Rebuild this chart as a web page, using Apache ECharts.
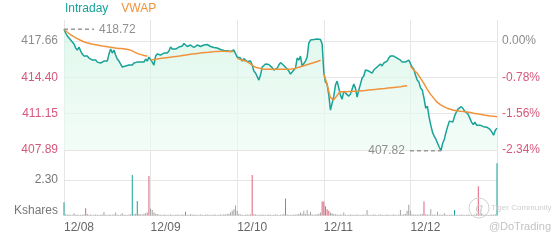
<!DOCTYPE html>
<html><head><meta charset="utf-8">
<script src="https://cdn.jsdelivr.net/npm/echarts@6/dist/echarts.min.js"></script>
<style>html,body{margin:0;padding:0;background:#fff}#c{width:560px;height:240px}</style>
</head><body><div id="c"></div>
<script>
// ---- data ----
const dayLabels = ['12/08','12/09','12/10','12/11','12/12'];
const prevClose = 417.66;
const priceAxisMin = 407.89, priceAxisMax = 419.545, priceStep = 3.2567;
const volAxisMax = 4.245, volStep = 2.30;

const price1 = [418.72,418.38,418.11,417.93,417.75,417.57,417.39,417.03,416.85,417.12,416.76,416.49,416.31,416.40,416.31,416.13,416.22,415.95,415.86,415.95,415.77,415.69,415.69,415.77,415.86,415.69,415.86,416.49,416.94,416.58,416.85,416.40,416.04,415.86,415.77,415.33,415.24,415.42,415.42,415.51,415.60,415.51,415.69,415.60,415.77,415.69,415.77,415.86,415.77,416.04,415.86,416.22];
const price2 = [416.13,415.77,415.51,416.31,416.49,416.58,416.40,416.49,416.58,416.67,416.58,416.76,417.12,416.94,416.85,416.94,417.03,417.12,417.03,417.21,417.44,417.30,417.17,417.26,417.30,417.21,417.08,417.21,417.30,417.26,417.17,417.26,417.30,417.26,417.35,417.30,417.17,417.21,417.08,416.99,417.03,416.99,416.90,416.85,416.81,416.81,416.78,416.83,416.72,416.76,416.85,416.72];
const price3 = [416.22,416.31,416.13,415.86,416.09,415.95,415.82,415.91,415.86,415.51,414.97,414.79,414.70,414.16,414.61,415.33,415.42,415.60,415.64,415.55,415.51,415.28,415.06,415.19,415.24,415.51,415.73,415.77,415.46,415.33,415.15,414.97,414.70,414.70,415.06,415.24,416.13,415.95,416.31,415.42,415.51,415.86,416.22,417.48,417.75,417.79,417.79,417.75,417.84,417.88,417.79,417.39];
const price4 = [414.88,413.98,413.80,412.81,411.46,411.46,412.72,413.71,414.07,413.44,412.81,412.45,413.17,412.99,412.99,412.72,412.90,412.99,413.80,413.44,412.63,413.26,413.80,414.34,414.52,415.06,415.15,414.97,415.06,414.79,415.06,414.97,415.33,415.24,415.60,415.42,415.69,415.82,415.86,416.13,416.31,416.40,416.31,416.27,416.13,416.00,415.95,415.77,415.69,415.77,415.69,415.95];
const price5 = [415.95,415.33,415.15,414.61,414.16,413.98,413.44,413.26,412.54,411.64,411.82,410.84,410.12,409.49,409.13,408.86,408.50,408.14,407.82,408.50,408.86,409.49,410.03,410.48,410.48,410.39,410.93,411.28,411.55,411.46,411.78,411.60,411.37,411.42,411.10,410.75,410.39,410.16,410.39,410.12,410.25,410.12,410.25,409.98,410.12,409.94,409.85,409.71,409.49,409.22,409.67,409.85];

const vwap1 = [418.72,418.47,418.24,418.06,417.90,417.75,417.62,417.51,417.44,417.37,417.32,417.26,417.21,417.17,417.12,417.08,417.03,417.00,416.98,416.94,416.90,416.82,416.67,416.53,416.44,416.36,416.29];
const vwap2 = [415.95,416.00,416.04,416.09,416.13,416.17,416.21,416.24,416.28,416.31,416.36,416.40,416.45,416.49,416.53,416.56,416.60,416.63,416.65,416.68,416.71,416.73,416.74,416.74,416.73,416.72,416.71];
const vwap3 = [416.13,416.00,415.91,415.82,415.64,415.42,415.28,415.21,415.16,415.13,415.12,415.12,415.12,415.12,415.13,415.13,415.14,415.15,415.19,415.28,415.37,415.46,415.55,415.64,415.73,415.82,415.93];
const vwap4 = [414.70,413.80,412.63,412.36,412.72,413.11,413.11,413.12,413.13,413.14,413.16,413.18,413.21,413.23,413.26,413.29,413.32,413.35,413.39,413.41,413.44,413.47,413.50,413.53,413.57,413.62,413.66];
const vwap5 = [415.42,415.06,414.79,414.34,413.89,413.35,412.90,412.54,412.18,411.96,411.78,411.64,411.55,411.46,411.41,411.37,411.34,411.30,411.25,411.19,411.14,411.09,411.03,410.99,410.94,410.91,410.87];

const vol1 = [0.86,0.08,0.05,0.06,0.05,0.04,0.14,0.05,0.06,0.04,0.05,0.05,0.06,0.47,0.10,0.05,0.06,0.04,0.05,0.06,0.05,0.04,0.05,0.06,0.23,0.05,0.04,0.06,0.05,0.05,0.06,0.20,0.05,0.04,0.06,0.15,0.05,0.05,0.04,0.06,0.08,2.62,0.10,0.12,0.94,0.10,0.08,0.06,0.12,0.15,0.20,2.56];
const vol2 = [0.45,0.35,0.20,0.12,0.10,0.06,0.05,0.04,0.06,0.05,0.04,0.05,0.06,0.05,0.04,0.05,0.06,0.05,0.04,0.06,0.05,0.25,0.05,0.04,0.10,0.05,0.06,0.05,0.04,0.05,0.06,0.05,0.04,0.05,0.06,0.05,0.04,0.05,0.06,0.05,0.04,0.05,0.06,0.05,0.08,0.06,0.10,0.12,0.20,0.30,0.40,0.64];
const vol3 = [0.30,0.10,0.06,0.05,0.04,0.05,0.06,0.05,0.08,2.62,0.10,0.06,0.05,0.04,0.05,0.06,0.05,0.04,0.05,0.06,0.05,0.04,0.05,0.06,0.05,0.04,0.05,0.06,0.08,1.10,0.06,0.05,0.04,0.05,0.06,0.05,0.08,0.10,0.20,0.12,0.30,0.10,0.35,0.08,0.25,0.06,0.05,0.06,0.08,0.12,0.20,0.90];
const vol4 = [0.90,0.60,0.40,0.30,0.20,0.15,0.10,0.08,0.06,0.05,0.06,0.05,0.20,0.05,0.04,0.05,0.06,0.05,0.04,0.05,0.06,0.05,0.04,0.05,0.06,0.05,0.35,0.05,0.04,0.05,0.06,0.05,0.04,0.05,0.06,0.05,0.04,0.05,0.06,0.05,0.04,0.05,0.06,0.05,0.04,0.06,0.35,0.05,0.08,0.10,0.30,0.70];
const vol5 = [0.30,0.08,0.06,0.05,0.06,0.05,0.08,0.10,0.90,0.08,0.06,0.05,0.40,0.05,0.06,0.05,0.25,0.05,0.06,0.05,0.15,0.05,0.04,0.05,0.06,0.05,0.35,0.05,0.04,0.05,0.06,0.05,0.04,0.05,0.06,0.05,0.04,0.05,0.06,0.10,1.90,0.08,0.15,0.05,0.06,0.05,0.04,0.05,0.06,0.05,0.08,3.38];
const volUpIdx = [[0,41,44],[],[],[],[26,51]];
const volDownIdx = [[13,51],[21],[9,29,51],[0,1,2,3],[8,40]];

// ---- build ----
const MIN_PER_DAY = 390, NDAYS = 5;
const TEAL = '#17a398', ORANGE = '#f0923a', RED = '#e0607e', GRAY = '#a3a3a3';
function stepFor(d, n){ return d === NDAYS-1 ? MIN_PER_DAY/(n-1) : MIN_PER_DAY/n; }

const priceDays = [price1,price2,price3,price4,price5];
const priceData = [];
priceDays.forEach((arr,d)=>{ const s=stepFor(d,arr.length); arr.forEach((v,i)=>priceData.push([d*MIN_PER_DAY+i*s, v])); });

const vwapDays = [vwap1,vwap2,vwap3,vwap4,vwap5];
const vwapData = [];
vwapDays.forEach((arr,d)=>{ const s=stepFor(d,arr.length); arr.forEach((v,i)=>vwapData.push([d*MIN_PER_DAY+i*s, v]));
  if (d < NDAYS-1) vwapData.push([(d+1)*MIN_PER_DAY-0.01, '-']); });

const volDays = [vol1,vol2,vol3,vol4,vol5];
const volData = [];
volDays.forEach((arr,d)=>{ const s=stepFor(d,arr.length); arr.forEach((v,i)=>{
  let c = GRAY; if (volUpIdx[d].includes(i)) c = TEAL; if (volDownIdx[d].includes(i)) c = RED;
  volData.push({value:[d*MIN_PER_DAY+i*s, v], itemStyle:{color:c}}); }); });

const chart = echarts.init(document.getElementById('c'), null, {renderer:'canvas'});
const FONT = 'Liberation Sans, Arial, sans-serif';
const gridLine = {color:'#e6e6e6', width:1};
const labelColor = v => (v >= prevClose - 0.005 ? '#8c8c8c' : '#d6587b');

const option = {
  animation:false,
  textStyle:{fontFamily:FONT},
  legend:{left:59, top:3, padding:0, itemWidth:0, itemHeight:0, itemGap:7,
    textStyle:{fontSize:12, fontFamily:FONT},
    data:[{name:'Intraday', textStyle:{color:TEAL}},{name:'VWAP', textStyle:{color:ORANGE}}]},
  grid:[{left:64, right:63, top:20, height:130},{left:64, right:63, top:150, height:65.5}],
  xAxis:[
    {gridIndex:0, type:'value', min:0, max:NDAYS*MIN_PER_DAY, interval:MIN_PER_DAY,
     axisLine:{show:false}, axisTick:{show:false}, axisLabel:{show:false}, splitLine:{show:true, lineStyle:gridLine}},
    {gridIndex:1, type:'value', min:0, max:NDAYS*MIN_PER_DAY, interval:MIN_PER_DAY,
     axisLine:{show:false}, axisTick:{show:false}, splitLine:{show:true, lineStyle:gridLine},
     axisLabel:{show:true, align:'left', margin:6, color:'#666', fontSize:12, fontFamily:FONT,
       formatter:v=>dayLabels[Math.round(v/MIN_PER_DAY)]||''}}
  ],
  yAxis:[
    {gridIndex:0, type:'value', min:priceAxisMin, max:priceAxisMax, interval:priceStep, position:'left',
     axisLine:{show:false}, axisTick:{show:false},
     splitLine:{show:true, showMaxLine:false, lineStyle:gridLine},
     axisLabel:{margin:6, fontSize:12, fontFamily:FONT, showMaxLabel:false, color:labelColor, formatter:v=>v.toFixed(2)}},
    {gridIndex:0, type:'value', min:priceAxisMin, max:priceAxisMax, interval:priceStep, position:'right',
     axisLine:{show:false}, axisTick:{show:false}, splitLine:{show:false},
     axisLabel:{margin:5, fontSize:12, fontFamily:FONT, showMaxLabel:false, color:labelColor,
       formatter:v=>((v/prevClose-1)*100).toFixed(2)+'%'}},
    {gridIndex:1, type:'value', min:0, max:volAxisMax, interval:volStep, position:'left',
     axisLine:{show:false}, axisTick:{show:false},
     splitLine:{show:true, showMaxLine:false, lineStyle:gridLine},
     axisLabel:{margin:6, fontSize:12, fontFamily:FONT, showMaxLabel:false, color:'#777',
       formatter:v=>v===0?'{k|Kshares}':v.toFixed(2), rich:{k:{fontSize:12, color:'#777', padding:[0,0,10,0]}}}}
  ],
  series:[
    {name:'Intraday', type:'line', xAxisIndex:0, yAxisIndex:0, data:priceData, showSymbol:false, clip:false,
     lineStyle:{color:TEAL, width:1.5}, itemStyle:{color:TEAL},
     areaStyle:{color:new echarts.graphic.LinearGradient(0,0,0,1,[{offset:0,color:'#d3f4e4'},{offset:1,color:'#eefbf4'}])}},
    {name:'VWAP', type:'line', xAxisIndex:0, yAxisIndex:0, data:vwapData, showSymbol:false, connectNulls:false,
     lineStyle:{color:ORANGE, width:1.5}, itemStyle:{color:ORANGE}},
    {name:'Volume', type:'bar', xAxisIndex:1, yAxisIndex:2, data:volData, barWidth:1, barGap:'-100%'}
  ]
};
chart.setOption(option);

// annotations of high/low, positioned through the chart's own scales
let maxI=0, minI=0;
priceData.forEach((p,i)=>{ if(p[1]>priceData[maxI][1]) maxI=i; if(p[1]<priceData[minI][1]) minI=i; });
const pMax = chart.convertToPixel({seriesIndex:0}, priceData[maxI]);
const pMin = chart.convertToPixel({seriesIndex:0}, priceData[minI]);
const dash = {stroke:'#9a9a9a', lineWidth:1.5, lineDash:[4,3]};
chart.setOption({graphic:[
  {type:'line', shape:{x1:pMax[0], y1:pMax[1], x2:pMax[0]+30, y2:pMax[1]}, style:dash, z:10},
  {type:'text', x:pMax[0]+35, y:pMax[1], style:{text:priceData[maxI][1].toFixed(2), fill:'#909090', font:'12px '+FONT, textVerticalAlign:'middle', verticalAlign:'middle'}, z:10},
  {type:'line', shape:{x1:pMin[0]-31, y1:pMin[1], x2:pMin[0], y2:pMin[1]}, style:dash, z:10},
  {type:'text', x:pMin[0]-36, y:pMin[1], style:{text:priceData[minI][1].toFixed(2), fill:'#909090', font:'12px '+FONT, align:'right', textAlign:'right', verticalAlign:'middle', textVerticalAlign:'middle'}, z:10},
  {type:'circle', shape:{cx:479, cy:208, r:10}, style:{fill:'none', stroke:'#d2d2d2', lineWidth:1}, z:5},
  {type:'text', x:479, y:208, style:{text:'g', fill:'#cfcfcf', font:'italic 13px '+FONT, align:'center', textAlign:'center', verticalAlign:'middle', textVerticalAlign:'middle'}, z:5},
  {type:'text', x:491, y:208, style:{text:'Tiger Community', fill:'#cfcfcf', font:'8px '+FONT, verticalAlign:'middle', textVerticalAlign:'middle'}, z:5},
  {type:'text', x:551, y:227, style:{text:'@DoTrading', fill:'#c4c4c4', font:'11px '+FONT, align:'right', textAlign:'right', verticalAlign:'middle', textVerticalAlign:'middle'}, z:5}
]});
</script></body></html>
